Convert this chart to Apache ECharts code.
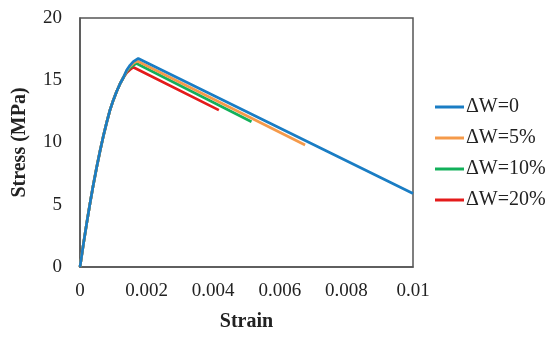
<!DOCTYPE html>
<html>
<head>
<meta charset="utf-8">
<script src="https://cdn.jsdelivr.net/npm/echarts@6/dist/echarts.min.js"></script>
<style>html,body{margin:0;padding:0;background:#fff;}#c{width:550px;height:339px;}</style>
</head>
<body>
<div id="c"></div>
<script>
var seriesNames = ['ΔW=0', 'ΔW=5%', 'ΔW=10%', 'ΔW=20%'];
var xTicks = [0, 0.002, 0.004, 0.006, 0.008, 0.01];
var yTicks = [0, 5, 10, 15, 20];
var riseStrain = [0, 0.0001, 0.0002, 0.0003, 0.0004, 0.0005, 0.0006, 0.0007, 0.0008, 0.0009, 0.001, 0.0011, 0.0012, 0.0013];
var riseStress = [0, 1.8, 3.5, 5.1, 6.6, 8.0, 9.3, 10.5, 11.6, 12.6, 13.4, 14.1, 14.7, 15.2];
var dw0Strain  = [0.0014, 0.0015, 0.0016, 0.00175, 0.01];
var dw0Stress  = [15.8, 16.2, 16.5, 16.75, 5.9];
var dw5Strain  = [0.0014, 0.0015, 0.0016, 0.00172, 0.00676];
var dw5Stress  = [15.75, 16.1, 16.35, 16.55, 9.8];
var dw10Strain = [0.0014, 0.0015, 0.0016, 0.0017, 0.00515];
var dw10Stress = [15.7, 16.0, 16.2, 16.35, 11.67];
var dw20Strain = [0.0014, 0.0015, 0.0016, 0.00166, 0.00417];
var dw20Stress = [15.6, 15.85, 16.05, 16.1, 12.6];
var colors = ['#1a7dc4', '#f59a4a', '#12b05a', '#e41b1b'];

function pairs(xs, ys) {
  var out = [];
  for (var i = 0; i < xs.length; i++) out.push([xs[i], ys[i]]);
  return out;
}
function curve(xs, ys) {
  return pairs(riseStrain, riseStress).concat(pairs(xs, ys));
}
var curves = [
  curve(dw0Strain, dw0Stress),
  curve(dw5Strain, dw5Stress),
  curve(dw10Strain, dw10Stress),
  curve(dw20Strain, dw20Stress)
];
var font = '"Liberation Serif", "DejaVu Serif", serif';
var chart = echarts.init(document.getElementById('c'));
chart.setOption({
  animation: false,
  color: colors,
  grid: { left: 80, right: 137, top: 18, bottom: 72, show: true, borderColor: '#555', borderWidth: 1.5, backgroundColor: '#fff' },
  legend: {
    orient: 'vertical', left: 430, top: 92,
    icon: 'rect', itemWidth: 29, itemHeight: 3, itemGap: 11,
    data: seriesNames,
    textStyle: { fontFamily: font, fontSize: 20, color: '#222', padding: [0, 0, 0, -3] }
  },
  xAxis: {
    type: 'value', min: 0, max: 0.01, interval: 0.002,
    name: 'Strain', nameLocation: 'middle', nameGap: 45,
    nameTextStyle: { fontFamily: font, fontSize: 20, fontWeight: 'bold', color: '#222' },
    axisLine: { show: true, lineStyle: { color: '#555', width: 1.5 } },
    axisTick: { show: false },
    splitLine: { show: false },
    axisLabel: { fontFamily: font, fontSize: 19, color: '#222', margin: 15,
      formatter: function (v) { return String(parseFloat(v.toFixed(4))); } }
  },
  yAxis: {
    type: 'value', min: 0, max: 20, interval: 5,
    name: 'Stress (MPa)', nameLocation: 'middle', nameGap: 50,
    nameTextStyle: { fontFamily: font, fontSize: 20, fontWeight: 'bold', color: '#222' },
    axisLine: { show: true, lineStyle: { color: '#555', width: 1.5 } },
    axisTick: { show: false },
    splitLine: { show: false },
    axisLabel: { fontFamily: font, fontSize: 19, color: '#222', margin: 18 }
  },
  series: seriesNames.map(function (n, i) {
    return { name: n, type: 'line', data: curves[i], showSymbol: false, symbol: 'none',
      lineStyle: { width: 2.7, color: colors[i] }, z: 10 - i };
  })
});
</script>
</body>
</html>
